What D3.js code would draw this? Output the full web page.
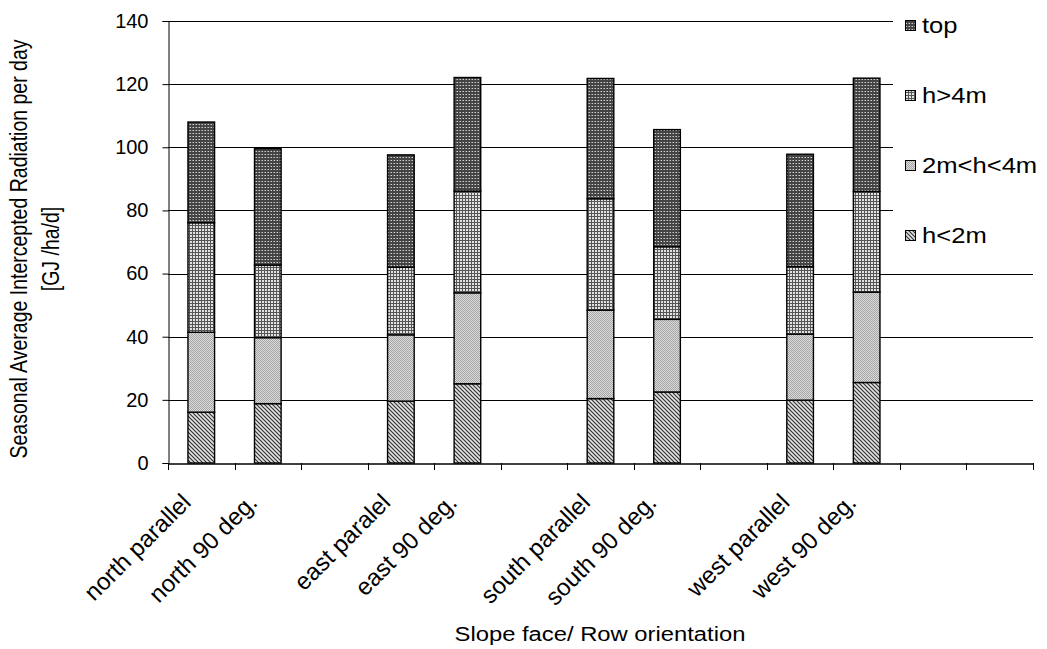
<!DOCTYPE html>
<html>
<head>
<meta charset="utf-8">
<script src="https://cdn.jsdelivr.net/npm/d3@7"></script>
<style>
  body { margin: 0; background: #fff; }
  text { font-family: "Liberation Sans", Arial, sans-serif; fill: #000; }
</style>
</head>
<body>
<div id="chart"></div>
<script>
// categories (blank slots are the gaps between groups)
var categories = ["north parallel", "north 90 deg.", "", "east paralel", "east 90 deg.", "",
                  "south parallel", "south 90 deg.", "", "west parallel", "west 90 deg.", "", ""];

// series values, bottom to top of each stack
var seriesNames = ["h<2m", "2m<h<4m", "h>4m", "top"];
var hLow   = [16.1, 18.8, null, 19.6, 25.1, null, 20.4, 22.5, null, 19.9, 25.5, null, null];
var hMid   = [25.3, 20.9, null, 21.0, 28.8, null, 28.0, 23.0, null, 20.9, 28.6, null, null];
var hHigh  = [34.7, 23.0, null, 21.4, 32.2, null, 35.3, 23.0, null, 21.4, 31.9, null, null];
var hTop   = [31.9, 36.9, null, 35.6, 36.0, null, 38.1, 37.1, null, 35.6, 35.9, null, null];

var yTicks = [0, 20, 40, 60, 80, 100, 120, 140];

var width = 1047, height = 649;
var plotLeft = 168, plotRight = 1033, plotTop = 21, plotBottom = 463;
var stretch = 1.19; // text in the picture is drawn a bit wide

var svg = d3.select("#chart").append("svg")
    .attr("width", width)
    .attr("height", height);

// fill patterns
var defs = svg.append("defs");

var p1 = defs.append("pattern").attr("id", "patLow")
    .attr("patternUnits", "userSpaceOnUse").attr("width", 4).attr("height", 4);
p1.append("rect").attr("width", 4).attr("height", 4).attr("fill", "#e4e4e4");
p1.append("path").attr("d", "M-1,-1 L5,5 M-1,3 L1,5 M3,-1 L5,1")
    .attr("stroke", "#333").attr("stroke-width", 1.2);

var p2 = defs.append("pattern").attr("id", "patMid")
    .attr("patternUnits", "userSpaceOnUse").attr("width", 2).attr("height", 2);
p2.append("rect").attr("width", 2).attr("height", 2).attr("fill", "#dcdcdc");
p2.append("rect").attr("width", 1).attr("height", 1).attr("fill", "#a4a4a4");
p2.append("rect").attr("x", 1).attr("y", 1).attr("width", 1).attr("height", 1).attr("fill", "#a4a4a4");

var p3 = defs.append("pattern").attr("id", "patHigh")
    .attr("patternUnits", "userSpaceOnUse").attr("width", 3).attr("height", 3);
p3.append("rect").attr("width", 3).attr("height", 3).attr("fill", "#e2e2e2");
p3.append("rect").attr("width", 3).attr("height", 1).attr("fill", "#555");
p3.append("rect").attr("width", 1).attr("height", 3).attr("fill", "#555");

var p4 = defs.append("pattern").attr("id", "patTop")
    .attr("patternUnits", "userSpaceOnUse").attr("width", 3).attr("height", 3);
p4.append("rect").attr("width", 3).attr("height", 3).attr("fill", "#444");
p4.append("rect").attr("x", 1).attr("y", 1).attr("width", 1).attr("height", 1).attr("fill", "#d0d0d0");
p4.append("rect").attr("x", 0).attr("y", 1).attr("width", 1).attr("height", 1).attr("fill", "#888");

var fills = ["url(#patLow)", "url(#patMid)", "url(#patHigh)", "url(#patTop)"];

// scales
var x = d3.scaleBand()
    .domain(d3.range(categories.length))
    .range([plotLeft, plotRight])
    .padding(0);

var y = d3.scaleLinear()
    .domain([0, 140])
    .range([plotBottom, plotTop]);

// gridlines
svg.append("g")
    .selectAll("line")
    .data(yTicks.slice(1))
    .enter()
    .append("line")
    .attr("x1", plotLeft)
    .attr("x2", plotRight)
    .attr("y1", function(d) { return Math.round(y(d)) + 0.5; })
    .attr("y2", function(d) { return Math.round(y(d)) + 0.5; })
    .attr("stroke", "#000")
    .attr("stroke-width", 1);

// stacked bars
var rows = categories.map(function(c, i) {
    return {i: i, low: hLow[i] || 0, mid: hMid[i] || 0, high: hHigh[i] || 0, top: hTop[i] || 0};
});
var stack = d3.stack().keys(["low", "mid", "high", "top"]);
var layers = stack(rows);

var barW = x.bandwidth() * 0.4;

svg.append("g")
    .selectAll("g")
    .data(layers)
    .enter()
    .append("g")
    .attr("fill", function(d, i) { return fills[i]; })
    .selectAll("rect")
    .data(function(d) { return d.filter(function(s) { return s[1] > s[0]; }); })
    .enter()
    .append("rect")
    .attr("x", function(d) { return x(d.data.i) + (x.bandwidth() - barW) / 2; })
    .attr("y", function(d) { return y(d[1]); })
    .attr("width", barW)
    .attr("height", function(d) { return y(d[0]) - y(d[1]); })
    .attr("stroke", "#000")
    .attr("stroke-width", 1.4);

// legend background hides gridlines behind it
svg.append("rect")
    .attr("x", 893).attr("y", 0)
    .attr("width", width - 893).attr("height", 248)
    .attr("fill", "#fff");

// y axis
var yAxis = d3.axisLeft(y)
    .tickValues(yTicks)
    .tickSize(6)
    .tickPadding(14);

var gy = svg.append("g")
    .attr("transform", "translate(" + (plotLeft + 0.5) + ",0)")
    .call(yAxis);
gy.select(".domain").attr("stroke", "#000");
gy.selectAll(".tick line").attr("stroke", "#000");
gy.selectAll(".tick text")
    .style("font-size", "20px")
    .style("font-family", "'Liberation Sans', Arial, sans-serif");

// x axis
var xAxis = d3.axisBottom(x)
    .tickSize(0)
    .tickFormat("");

var gx = svg.append("g")
    .attr("transform", "translate(0," + (plotBottom + 0.5) + ")")
    .call(xAxis);
gx.select(".domain").attr("stroke", "#000").attr("stroke-width", 1.5);
gx.selectAll(".tick").remove();

// x ticks at slot boundaries
svg.append("g")
    .selectAll("line")
    .data(d3.range(categories.length + 1))
    .enter()
    .append("line")
    .attr("x1", function(d) { return Math.round(plotLeft + d * x.step()) + 0.5; })
    .attr("x2", function(d) { return Math.round(plotLeft + d * x.step()) + 0.5; })
    .attr("y1", plotBottom)
    .attr("y2", plotBottom + 7)
    .attr("stroke", "#000");

// rotated category labels
svg.append("g")
    .selectAll("text")
    .data(categories.map(function(c, i) { return {c: c, i: i}; }).filter(function(d) { return d.c; }))
    .enter()
    .append("text")
    .attr("transform", function(d) {
        return "translate(" + (x(d.i) + x.bandwidth() / 2 - 15) + "," + (plotBottom + 35) + ") rotate(-45)";
    })
    .attr("text-anchor", "end")
    .attr("dy", "0.35em")
    .style("font-size", "24px")
    .text(function(d) { return d.c; });

// axis titles
svg.append("text")
    .attr("transform", "translate(600,641) scale(" + stretch + ",1)")
    .attr("text-anchor", "middle")
    .style("font-size", "20px")
    .text("Slope face/ Row orientation");

var yTitle = svg.append("text")
    .attr("transform", "translate(27," + ((plotTop + plotBottom) / 2 + 7) + ") scale(" + stretch + ",1) rotate(-90)")
    .attr("text-anchor", "middle")
    .style("font-size", "19.5px");
yTitle.append("tspan").attr("x", 0).attr("dy", 0)
    .text("Seasonal Average Intercepted Radiation per day");
yTitle.append("tspan").attr("x", 0).attr("dy", 27)
    .text("[GJ /ha/d]");

// legend, top series first
var legendOrder = [3, 2, 1, 0];
var legend = svg.append("g")
    .selectAll("g")
    .data(legendOrder)
    .enter()
    .append("g")
    .attr("transform", function(d, i) { return "translate(905," + (25 + i * 70) + ")"; });

legend.append("rect")
    .attr("x", 0.5).attr("y", -4.5)
    .attr("width", 10).attr("height", 10)
    .attr("fill", function(d) { return fills[d]; })
    .attr("stroke", "#000");

legend.append("text")
    .attr("transform", "translate(17,0) scale(" + stretch + ",1)")
    .attr("dy", "0.35em")
    .style("font-size", "21.5px")
    .text(function(d) { return seriesNames[d]; });
</script>
</body>
</html>
